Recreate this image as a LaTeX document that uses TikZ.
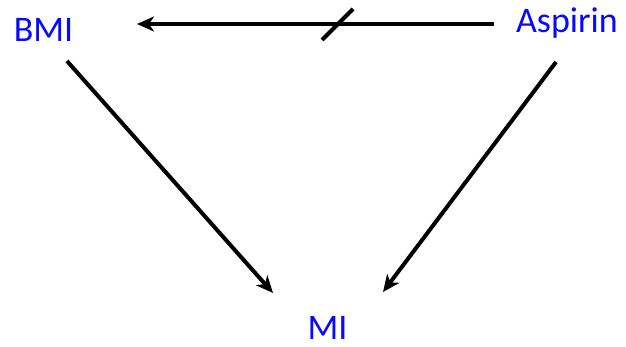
\documentclass[tikz,border=0pt]{standalone}
\usepackage{fontspec}
\setmainfont{Carlito}
\usetikzlibrary{arrows.meta}
\definecolor{lblblue}{RGB}{10,10,250}
\begin{document}
\begin{tikzpicture}[x=1pt,y=-1pt,
  lbl/.style={text=lblblue,font=\fontsize{36}{40}\selectfont,inner sep=0pt,anchor=base},
  conn/.style={line width=4pt,-{Stealth[length=17pt,width=15pt,inset=5pt]}},
  tick/.style={line width=4pt}]
\useasboundingbox (0,0) rectangle (626,346);
\node[lbl] (bmi) at (43.5,41) {BMI};
\node[lbl] (asp) at (567,32) {Aspirin};
\node[lbl] (mi) at (327.5,339.5) {MI};
\coordinate (aspW) at (494,24);
\coordinate (bmiE) at (137,24);
\coordinate (bmiS) at (67,61);
\coordinate (miNW) at (273,293);
\coordinate (aspS) at (556,62);
\coordinate (miNE) at (383,292);
\coordinate (t1) at (322,40);
\coordinate (t2) at (353,9);
\draw[conn] (aspW) -- (bmiE);
\draw[tick] (t1) -- (t2);
\draw[conn] (bmiS) -- (miNW);
\draw[conn] (aspS) -- (miNE);
\end{tikzpicture}
\end{document}
